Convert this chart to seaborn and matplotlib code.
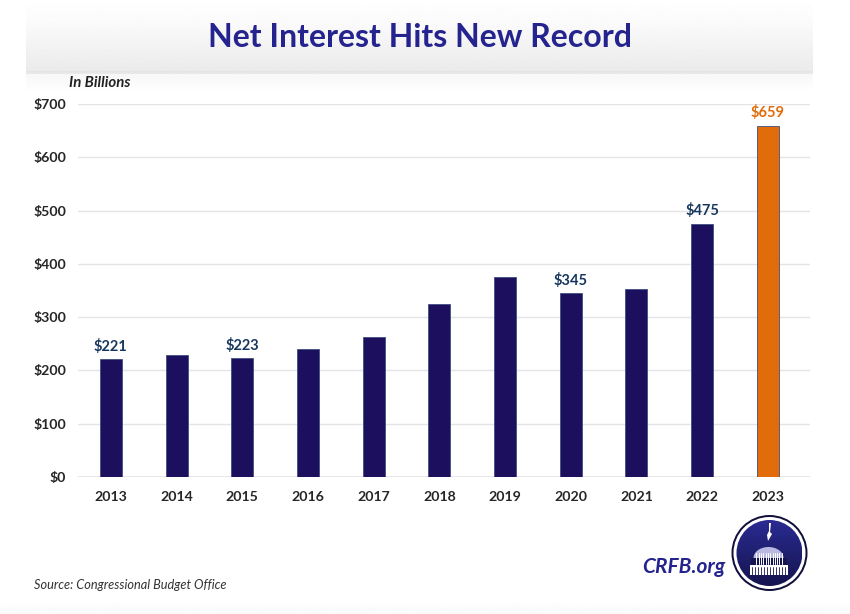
import numpy as np
import matplotlib
matplotlib.use("Agg")
import matplotlib.pyplot as plt
from matplotlib.patches import Circle, Rectangle, Polygon, Ellipse
import seaborn as sns
import pandas as pd

years = ["2013","2014","2015","2016","2017","2018","2019","2020","2021","2022","2023"]
values = [221,229,223,241,263,325,376,345,352,475,659]
labelled = ["2013","2015","2020","2022","2023"]
yticks = [0,100,200,300,400,500,600,700]
NAVY = "#1B0F5E"; ORANGE = "#E36C0A"; TITLE = "#25248F"; W, H = 850, 614

sns.set_theme(style="white")
plt.rcParams['font.family'] = ['Lato', 'DejaVu Sans']
fig = plt.figure(figsize=(W/100, H/100), dpi=100, facecolor="white")

# background layer in pixel coordinates
bg = fig.add_axes([0,0,1,1], zorder=0); bg.set_xlim(0,W); bg.set_ylim(H,0); bg.axis("off")
def grad(y0, y1, c0, c1, x0=26, x1=813):
    g = np.linspace(c0, c1, 64)[:,None]
    bg.imshow(g, extent=(x0,x1,y1,y0), cmap="gray", vmin=0, vmax=1, aspect="auto", interpolation="bilinear")
grad(0, 20, 1.0, 0.985)
grad(20, 71, 0.985, 0.92)
grad(71, 74, 0.89, 0.92)
grad(74, 92, 0.97, 1.0)
grad(600, 614, 1.0, 0.98, 0, 850)
bg.set_xlim(0,W); bg.set_ylim(H,0)

# chart
L, R, T, B = 78, 810, 104, 477
ax = fig.add_axes([L/W, 1-B/H, (R-L)/W, (B-T)/H], zorder=1)
ax.patch.set_alpha(0)
df = pd.DataFrame({"year": years, "value": values})
sns.barplot(data=df, x="year", y="value", hue="year", legend=False, width=0.335, ax=ax,
            palette=[NAVY]*10+[ORANGE], saturation=1, edgecolor="#3F4F7F", linewidth=0.6)
ax.set_ylim(0,700)
ax.set_xlim(-0.5, -0.5+(R-L)/65.7)
ax.set_yticks(yticks); ax.set_yticklabels([f"${v}" for v in yticks])
ax.set_xlabel(""); ax.set_ylabel("")
ax.grid(axis="y", color="#E4E4E8", lw=1); ax.set_axisbelow(True)
sns.despine(ax=ax, left=True, bottom=True, top=True, right=True)
ax.axhline(0, color="#E4E4E8", lw=1.2, zorder=0.5)
ax.tick_params(axis="both", length=0, labelsize=10.2, labelcolor="#262626")
ax.tick_params(axis="y", pad=8.5); ax.tick_params(axis="x", pad=10)
for t in ax.get_xticklabels()+ax.get_yticklabels(): t.set_fontweight("bold")
for y, v in zip(years, values):
    if y in labelled:
        ax.annotate(f"${v}", (years.index(y), v), xytext=(0,4), textcoords="offset points",
                    ha="center", va="bottom", fontsize=10.5, fontweight="bold",
                    color=ORANGE if y=="2023" else "#17375E")

# texts
fig.text(420/W, 1-37.5/H, "Net Interest Hits New Record", ha="center", va="center",
         fontsize=23, fontweight="bold", color=TITLE)
fig.text(69/W, 1-83/H, "In Billions", ha="left", va="center", fontsize=10.8,
         fontweight="bold", style="italic", color="#222222")
fig.text(34/W, 1-585/H, "Source: Congressional Budget Office", ha="left", va="center",
         fontsize=9.2, style="italic", color="#333333")
fig.text(684/W, 1-567/H, "CRFB.org", ha="center", va="center", fontsize=15,
         fontweight="bold", style="italic", color=TITLE)

# logo
lg = fig.add_axes([0,0,1,1], zorder=2); lg.set_xlim(0,W); lg.set_ylim(H,0); lg.axis("off"); lg.patch.set_alpha(0)
cx, cy = 769.5, 553
lg.add_patch(Circle((cx,cy),38,fc="#10103A",ec="none",zorder=1))
lg.add_patch(Circle((cx,cy),36,fc="white",ec="none",zorder=2))
disc = Circle((cx,cy),33,fc="none",ec="none",zorder=2); lg.add_patch(disc)
im = lg.imshow(np.linspace(0,1,64)[:,None], extent=(cx-33,cx+33,cy+33,cy-33), aspect="auto", zorder=3,
               cmap=matplotlib.colors.LinearSegmentedColormap.from_list("l",["#2A2A92","#15154F"]))
im.set_clip_path(disc)
lg.set_xlim(0,W); lg.set_ylim(H,0)
lg.add_patch(Polygon([(769,523),(771,523),(770,532),(772,534),(768,541),(767,535),(769,531)],fc="white",ec="none",zorder=4))
lg.add_patch(Ellipse((cx-1,558),30,22,fc="#B8B8E0",ec="none",zorder=4))
lg.add_patch(Rectangle((cx-18,558),36,12,fc="#15154F",ec="none",zorder=4))
lg.add_patch(Rectangle((cx-19,565),38,10,fc="white",ec="none",zorder=5))
for i in range(12):
    lg.plot([cx-17+i*3]*2,[567,575],color="#15154F",lw=0.6,zorder=6)
    lg.plot([cx-13+i*2.3]*2,[553,564],color="white",lw=0.7,zorder=6)
fig.savefig("out.png", dpi=100, facecolor="white")
